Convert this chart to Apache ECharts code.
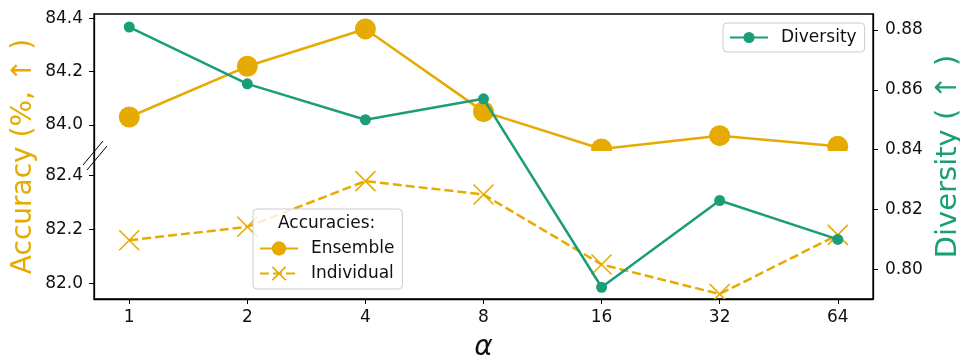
<!DOCTYPE html>
<html>
<head>
<meta charset="utf-8">
<script src="https://cdn.jsdelivr.net/npm/echarts@6/dist/echarts.min.js"></script>
<style>
  html, body { margin: 0; padding: 0; background: #ffffff; }
  #chart { width: 960px; height: 362px; }
</style>
</head>
<body>
<div id="chart"></div>
<script>
// alpha values on the x axis
var alphas = ["1", "2", "4", "8", "16", "32", "64"];
// accuracy (%), left axis (broken)
var ensembleAcc = [84.03, 84.22, 84.36, 84.05, 83.91, 83.96, 83.92];
var individualAcc = [82.16, 82.21, 82.38, 82.33, 82.07, 81.96, 82.18];
// diversity, right axis
var diversity = [0.881, 0.862, 0.850, 0.857, 0.794, 0.823, 0.810];
// tick labels
var upperTicks = [84.0, 84.2, 84.4];
var lowerTicks = [82.0, 82.2, 82.4];
var diversityTicks = [0.80, 0.82, 0.84, 0.86, 0.88];

var YELLOW = "#E6AB02";
var GREEN = "#1B9E77";
var FONT = "DejaVu Sans";
var X_PATH = "path://M0,0.8L0.8,0L10,9.2L9.2,10Z M9.2,0L10,0.8L0.8,10L0,9.2Z";
var TICK_LEN = 5;

var xIdx = alphas.map(function (a, i) { return i; });
var X_MIN = -0.2985, X_MAX = alphas.length - 1 + 0.2985;
var SPINE = { show: true, onZero: false, lineStyle: { color: "#000", width: 1.3 } };

var chart = echarts.init(document.getElementById("chart"), null, { renderer: "canvas" });

function pairs(arr) {
  return arr.map(function (v, i) { return [i, v]; });
}

function accAxis(grid, min, max, ticks) {
  return {
    gridIndex: grid,
    type: "value",
    position: "left",
    min: min,
    max: max,
    splitLine: { show: false },
    axisLine: SPINE,
    axisTick: { show: true, customValues: ticks, length: TICK_LEN, lineStyle: { color: "#000", width: 1 } },
    axisLabel: {
      customValues: ticks, margin: 11, color: "#111", fontFamily: FONT, fontSize: 17,
      formatter: function (v) { return v.toFixed(1); }
    }
  };
}

function hiddenX(grid) {
  return { gridIndex: grid, type: "value", min: X_MIN, max: X_MAX, show: false, axisLine: { onZero: false } };
}

var option = {
  animation: false,
  backgroundColor: "#ffffff",
  textStyle: { fontFamily: FONT },
  grid: [
    { left: 94, right: 87, top: 14, height: 137, outerBoundsMode: "none" },   // upper accuracy panel
    { left: 94, right: 87, top: 151, bottom: 63, outerBoundsMode: "none" },   // lower accuracy panel
    { left: 94, right: 87, top: 14, bottom: 63, outerBoundsMode: "none",      // diversity + frame
      show: true, borderColor: "#000", borderWidth: 1.3, backgroundColor: "transparent" }
  ],
  xAxis: [
    hiddenX(0),
    {
      gridIndex: 1,
      type: "value",
      min: X_MIN,
      max: X_MAX,
      splitLine: { show: false },
      axisLine: SPINE,
      axisTick: { show: true, customValues: xIdx, length: TICK_LEN, lineStyle: { color: "#000" } },
      axisLabel: {
        customValues: xIdx, margin: 10, color: "#111", fontFamily: FONT, fontSize: 17,
        formatter: function (v) { return alphas[Math.round(v)]; }
      },
      name: "α",
      nameLocation: "middle",
      nameGap: 35,
      nameTextStyle: { fontFamily: FONT, fontSize: 28, fontStyle: "italic", color: "#111" }
    },
    hiddenX(2)
  ],
  yAxis: [
    accAxis(0, 83.9025, 84.416, upperTicks),
    accAxis(1, 81.9416, 82.4918, lowerTicks),
    {
      gridIndex: 2,
      type: "value",
      position: "right",
      min: 0.79007,
      max: 0.88535,
      splitLine: { show: false },
      axisLine: SPINE,
      axisTick: { show: true, customValues: diversityTicks, length: TICK_LEN, lineStyle: { color: "#000" } },
      axisLabel: {
        customValues: diversityTicks, margin: 12, color: "#111", fontFamily: FONT, fontSize: 17,
        formatter: function (v) { return v.toFixed(2); }
      },
      name: "Diversity ( ↑ )", nameLocation: "middle", nameGap: 58,
      nameTextStyle: { color: GREEN, fontFamily: FONT, fontSize: 29 }
    },
    {
      gridIndex: 2, type: "value", position: "left",
      axisLine: { show: false, onZero: false }, axisTick: { show: false }, axisLabel: { show: false }, splitLine: { show: false },
      name: "Accuracy (%, ↑ )", nameLocation: "middle", nameGap: 56,
      nameTextStyle: { color: YELLOW, fontFamily: FONT, fontSize: 28 }
    }
  ],
  legend: [
    {
      data: ["Diversity"],
      left: 723, top: 23,
      itemWidth: 38, itemHeight: 14,
      padding: [6, 8, 6, 6],
      borderColor: "#cccccc", borderWidth: 1, borderRadius: 4,
      backgroundColor: "rgba(255,255,255,0.8)",
      selectedMode: false, z: 10,
      textStyle: { fontFamily: FONT, fontSize: 17, color: "#111", padding: [0, 0, 0, 8] }
    },
    {
      data: ["Ensemble", "Individual"],
      orient: "vertical",
      left: 253, top: 209,
      itemWidth: 38, itemHeight: 18, itemGap: 8,
      padding: [31, 8, 7, 6],
      borderColor: "#cccccc", borderWidth: 1, borderRadius: 4,
      backgroundColor: "rgba(255,255,255,0.8)",
      selectedMode: false, z: 10,
      textStyle: { fontFamily: FONT, fontSize: 17, color: "#111", padding: [0, 0, 0, 8] }
    }
  ],
  graphic: [
    { type: "text", left: 278, top: 215, z: 100,
      style: { text: "Accuracies:", fill: "#111", font: "17px DejaVu Sans" } },
    // break marks on the left spine
    { type: "line", z: 100, shape: { x1: 83, y1: 165, x2: 103, y2: 141 }, style: { stroke: "#000", lineWidth: 1 } },
    { type: "line", z: 100, shape: { x1: 87, y1: 170, x2: 107, y2: 146 }, style: { stroke: "#000", lineWidth: 1 } }
  ],
  series: [
    {
      name: "Ensemble",
      type: "line",
      xAxisIndex: 0, yAxisIndex: 0,
      data: pairs(ensembleAcc),
      symbol: "circle",
      showSymbol: false,
      silent: true,
      z: 2,
      itemStyle: { color: YELLOW },
      lineStyle: { color: YELLOW, width: 2.5 }
    },
    {
      name: "ensembleMarkers",
      type: "custom",
      xAxisIndex: 0, yAxisIndex: 0,
      clip: true,
      silent: true,
      z: 2,
      data: pairs(ensembleAcc),
      encode: { x: 0, y: 1 },
      renderItem: function (params, api) {
        var p = api.coord([api.value(0), api.value(1)]);
        return { type: "circle", shape: { cx: p[0], cy: p[1], r: 10.5 }, style: { fill: YELLOW } };
      }
    },
    {
      name: "Individual",
      type: "line",
      xAxisIndex: 1, yAxisIndex: 1,
      data: pairs(individualAcc),
      symbol: X_PATH,
      showSymbol: false,
      silent: true,
      z: 2,
      itemStyle: { color: YELLOW },
      lineStyle: { color: YELLOW, width: 2.5, type: [9, 4] }
    },
    {
      name: "individualMarkers",
      type: "custom",
      xAxisIndex: 1, yAxisIndex: 1,
      clip: true,
      silent: true,
      z: 2,
      data: pairs(individualAcc),
      encode: { x: 0, y: 1 },
      renderItem: function (params, api) {
        var p = api.coord([api.value(0), api.value(1)]);
        var h = 10;
        return {
          type: "group",
          children: [
            { type: "line", shape: { x1: p[0] - h, y1: p[1] - h, x2: p[0] + h, y2: p[1] + h }, style: { stroke: YELLOW, lineWidth: 1.6 } },
            { type: "line", shape: { x1: p[0] - h, y1: p[1] + h, x2: p[0] + h, y2: p[1] - h }, style: { stroke: YELLOW, lineWidth: 1.6 } }
          ]
        };
      }
    },
    {
      name: "Diversity",
      type: "line",
      xAxisIndex: 2, yAxisIndex: 2,
      data: pairs(diversity),
      symbol: "circle",
      symbolSize: 11,
      silent: true,
      z: 4,
      itemStyle: { color: GREEN },
      lineStyle: { color: GREEN, width: 2.5 }
    }
  ]
};

chart.setOption(option);
</script>
</body>
</html>
